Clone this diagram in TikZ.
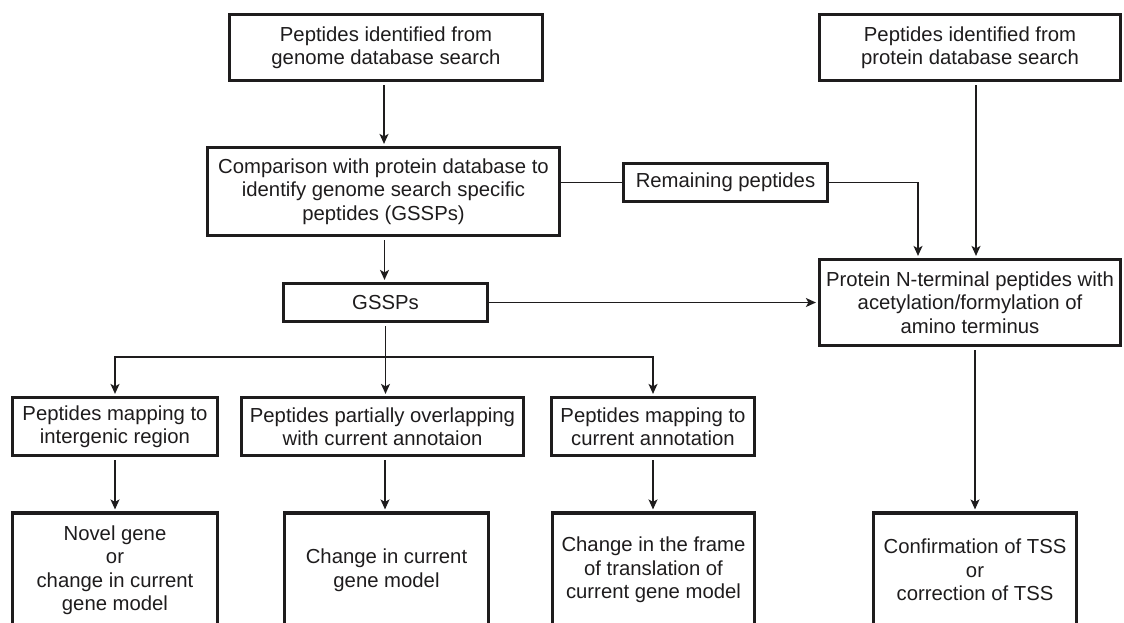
\documentclass[tikz,border=0pt]{standalone}
\usepackage{fontspec}
\setmainfont{Liberation Sans}
\usetikzlibrary{arrows.meta}
\definecolor{ink}{RGB}{30,28,29}
\tikzset{
  box/.style={draw=ink, line width=3.2pt, fill=white, inner sep=0pt, align=center,
    text=ink, font=\fontsize{20.3}{23.5}\selectfont},
  arr/.style={draw=ink, line width=1.4pt, -{Stealth[length=10pt,width=9pt,inset=2.5pt]},
    shorten <=3pt, shorten >=2pt},
  ln/.style={draw=ink, line width=1.4pt}
}
\begin{document}
\begin{tikzpicture}[x=1pt,y=-1pt]
\useasboundingbox (0,0) rectangle (1124,622);
% row 1
\node[box, minimum width=313pt, minimum height=66pt] (g1) at (386,47.5) {Peptides identified from\\genome database search};
\node[box, minimum width=301pt, minimum height=66pt] (p1) at (970,47.5) {Peptides identified from\\protein database search};
% row 2
\node[box, minimum width=352pt, minimum height=88pt] (cmp) at (383.5,191.5) {Comparison with protein database to\\identify genome search specific\\peptides (GSSPs)};
\node[box, minimum width=204pt, minimum height=38pt] (rem) at (725.5,182.5) {Remaining peptides};
% row 3
\node[box, minimum width=204pt, minimum height=38pt] (gssp) at (385.5,302.5) {GSSPs};
\node[box, minimum width=301pt, minimum height=86pt] (nt) at (970,302.5) {Protein N-terminal peptides with\\acetylation/formylation of\\amino terminus};
% row 4
\node[box, minimum width=205pt, minimum height=58pt] (r3a) at (115,426.5) {Peptides mapping to\\intergenic region};
\node[box, minimum width=282pt, minimum height=58pt] (r3b) at (382.5,426.5) {Peptides partially overlapping\\with current annotaion};
\node[box, minimum width=203pt, minimum height=58pt] (r3c) at (653,426.5) {Peptides mapping to\\current annotation};
% row 5
\node[box, minimum width=205pt, minimum height=114pt] (r4a) at (115,570) {Novel gene\\or\\change in current\\gene model};
\node[box, minimum width=204pt, minimum height=114pt] (r4b) at (386.5,570) {Change in current\\gene model};
\node[box, minimum width=202pt, minimum height=114pt] (r4c) at (653.5,570) {Change in the frame\\of translation of\\current gene model};
\node[box, minimum width=203pt, minimum height=114pt] (r4d) at (975,570) {Confirmation of TSS\\or\\correction of TSS};
% connectors
\draw[arr] ([xshift=-2pt]g1.south) -- ([xshift=-2pt]g1.south |- cmp.north);
\draw[arr] ([xshift=1pt]cmp.south) -- ([xshift=1pt]cmp.south |- gssp.north);
\draw[ln] (rem.west) -- (rem.west -| cmp.east);
\coordinate (rj) at ([xshift=-52pt]nt.north);
\draw[arr, shorten <=0pt] (rem.east) -| (rj);
\draw[arr] ([xshift=6pt]p1.south) -- ([xshift=6pt]nt.north);
\draw[arr, shorten <=0pt] (gssp.east) -- (nt.west);
\coordinate (br) at (385.5,357);
\draw[arr] (gssp.south) -- (gssp.south |- r3b.north);
\draw[arr, shorten <=0pt] (br) -| (r3a.north);
\draw[arr, shorten <=0pt] (br) -| (r3c.north);
\draw[arr] (r3a.south) -- (r4a.north);
\draw[arr] ([xshift=2.5pt]r3b.south) -- ([xshift=2.5pt]r3b.south |- r4b.north);
\draw[arr] (r3c.south) -- (r3c.south |- r4c.north);
\draw[arr] (r4d.north |- nt.south) -- (r4d.north);
\end{tikzpicture}
\end{document}
